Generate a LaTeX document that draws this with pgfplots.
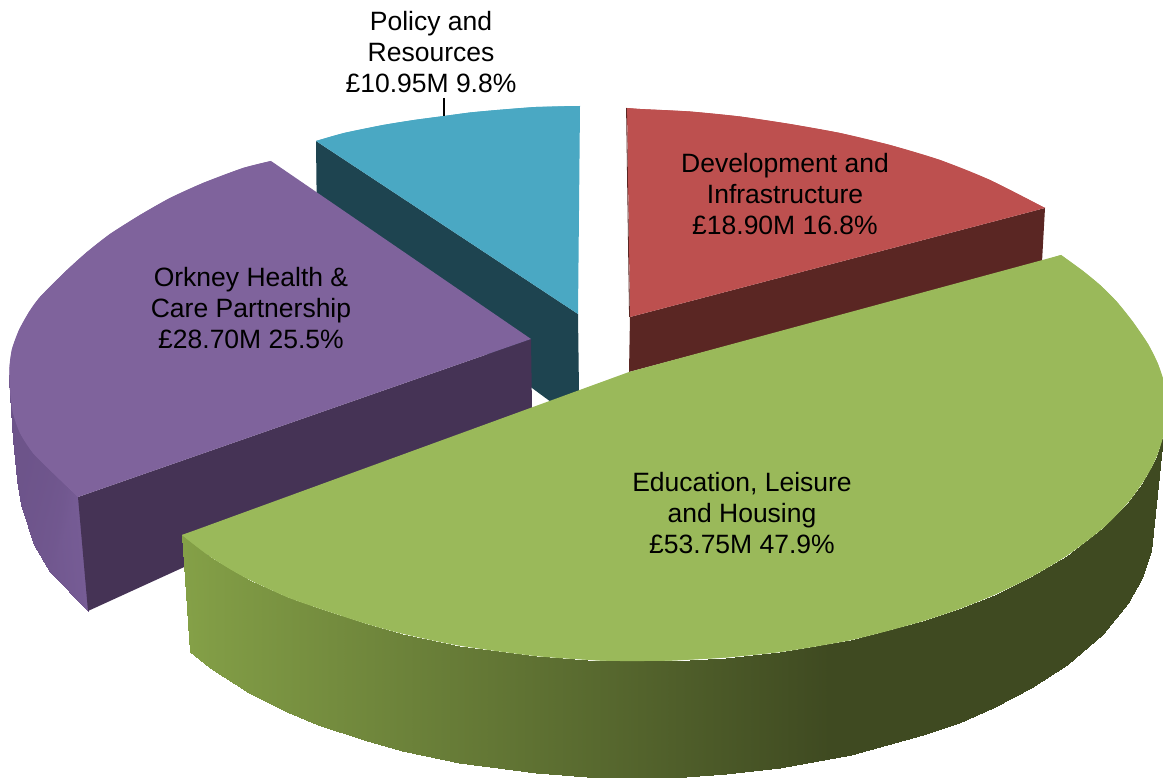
\documentclass[border=0pt]{standalone}
\usepackage{fontspec}
\setmainfont{Liberation Sans}
\usepackage{pgfplots}
\pgfplotsset{compat=1.18}
\definecolor{redtop}{HTML}{BD504F}
\definecolor{redside}{HTML}{5A2623}
\definecolor{greentop}{HTML}{9AB95A}
\definecolor{purpletop}{HTML}{7F639C}
\definecolor{purpleside}{HTML}{453355}
\definecolor{tealtop}{HTML}{4AA8C3}
\definecolor{tealside}{HTML}{1E4450}
\pgfplotsset{
  colormap={greenside}{rgb255(0cm)=(132,160,71); rgb255(6.48cm)=(63,74,33); rgb255(9.81cm)=(63,74,33)},
  colormap={purpleside}{rgb255(0cm)=(108,83,137); rgb255(1cm)=(118,92,149)},
}
\tikzset{lab/.style={font=\fontsize{26.5}{31}\selectfont, align=center, inner sep=0pt, text=black}}
\begin{document}
\begin{tikzpicture}
\useasboundingbox (0,0) rectangle (1163pt,778pt);
\begin{axis}[
  width=1163pt, height=778pt, scale only axis,
  xmin=0, xmax=1163, ymin=0, ymax=778,
  y dir=reverse,
  hide axis,
  clip=true,
]
% teal slice
\addplot[draw=none, fill=tealside] coordinates {
  (316,141) (578,314) (579,392) (551,402) (532,388) (317,229)
} -- cycle;
\addplot[draw=none, fill=tealtop] coordinates {
  (316,141) (344,133) (383,125) (414,120) (444,116) (470,112.5) (497,110) (536,107) (580,106) (578,314)
} -- cycle;
\addplot[draw=none, fill=tealtop, smooth] coordinates {
  (316,141) (344,133) (383,125) (414,120) (444,116) (470,112.5) (497,110) (536,107) (580,106)
} -- cycle;
% purple slice
\addplot[patch, patch type=rectangle, shader=interp, colormap name=purpleside, point meta rel=per plot, point meta=explicit]
  table[meta=c] {
  x y c
  9.5 375 10
  9.5 380 10
  13 440 13
  13 413 13
  13 413 13
  13 440 13
  17 480 17
  20 433 17
  20 433 17
  17 480 17
  21 505 21
  33 453 21
  33 453 21
  21 505 21
  34 545 34
  53 473 34
  53 473 34
  34 545 34
  50 572 50
  65 485 50
  65 485 50
  50 572 50
  88 611 88
  78 497 88
};
\addplot[draw=none, fill=purpleside] coordinates {
  (78,497) (531,339) (532,408) (88,611)
} -- cycle;
\addplot[draw=none, fill=purpletop] coordinates {
  (271,161) (243,168) (203,183) (170,198) (140,215) (110,234) (87,252) (67,270) (40,297) (29,312) (19,330) (12,349) (9.5,367) (10,390)
  (13,413) (20,433) (33,453) (53,473) (78,497) (531,339)
} -- cycle;
\addplot[draw=none, fill=purpletop, smooth] coordinates {
  (271,161) (243,168) (203,183) (170,198) (140,215) (110,234) (87,252) (67,270) (40,297) (29,312) (19,330) (12,349) (9.5,367) (10,390)
  (13,413) (20,433) (33,453) (53,473) (78,497)
} -- cycle;
% red slice
\addplot[draw=none, fill=redside] coordinates {
  (630,317) (1045,208) (1042,262) (629,372)
} -- cycle;
\addplot[draw=none, fill=redtop] coordinates {
  (627,108) (640,109) (690,111.5) (740,116.5) (790,124) (840,133) (890,145) (940,160) (990,180) (1045,208) (630,317)
} -- cycle;
\addplot[draw=none, fill=redtop, smooth] coordinates {
  (627,108) (640,109) (690,111.5) (740,116.5) (790,124) (840,133) (890,145) (940,160) (990,180) (1045,208)
} -- cycle;
\addplot[redside, line width=0.8pt] coordinates {(626.5,108) (629.5,317)};
% green slice
\addplot[patch, patch type=rectangle, shader=interp, colormap name=greenside, point meta rel=per plot, point meta=explicit]
  table[meta=c] {
  x y c
  182 535 182
  190 652 182
  210 668 210
  210 556.5 210
  210 556.5 210
  210 668 210
  249 692.5 249
  249 579.5 249
  249 579.5 249
  249 692.5 249
  287 711.5 287
  287 597 287
  287 597 287
  287 711.5 287
  318 724.5 318
  318 608 318
  318 608 318
  318 724.5 318
  364 740 364
  364 623 364
  364 623 364
  364 740 364
  402 750.5 402
  402 633.5 402
  402 633.5 402
  402 750.5 402
  459 762.5 459
  459 645.5 459
  459 645.5 459
  459 762.5 459
  536 773 536
  536 656 536
  536 656 536
  536 773 536
  600 777.5 600
  600 660.5 600
  600 660.5 600
  600 777.5 600
  640 778 640
  640 661 640
  640 661 640
  640 778 640
  672 777.5 672
  672 660.5 672
  672 660.5 672
  672 777.5 672
  726 774 726
  726 657.5 726
  726 657.5 726
  726 774 726
  780 768 780
  780 652 780
  780 652 780
  780 768 780
  851 755 851
  851 640 851
  851 640 851
  851 755 851
  923 735 923
  923 621 923
  923 621 923
  923 735 923
  959 722.5 959
  959 609 959
  959 609 959
  959 722.5 959
  995 707 995
  995 594.5 995
  995 594.5 995
  995 707 995
  1031 688 1031
  1031 577 1031
  1031 577 1031
  1031 688 1031
  1067 664.5 1067
  1067 555.5 1067
  1067 555.5 1067
  1067 664.5 1067
  1103 633.5 1103
  1103 528 1103
  1103 528 1103
  1103 633.5 1103
  1128 603 1128
  1128 502.5 1128
  1128 502.5 1128
  1128 603 1128
  1142 577.5 1142
  1142 483.5 1142
  1142 483.5 1142
  1142 577.5 1142
  1151 550.5 1151
  1151 468.5 1151
  1151 468.5 1151
  1151 550.5 1151
  1154 523 1157
  1157 455.5 1157
  1157 455.5 1157
  1154 523 1157
  1163 437 1163
  1163 437 1163
};
\addplot[draw=none, fill=greentop] coordinates {
  (1061,255) (1083,271) (1100,285) (1117,302) (1133,322) (1148,344) (1158,364) (1165,386) (1167,410) (1163,437)
  (1157,455.5) (1151,468.5) (1142,483.5) (1128,502.5) (1103,528) (1067,555.5) (1031,577) (995,594.5)
  (959,609) (923,621) (887,631) (851,640) (815,646.5) (780,652) (726,657.5) (672,660.5) (640,661)
  (600,660.5) (536,656) (459,645.5) (402,633.5) (364,623) (318,608) (287,597) (249,579.5) (230,569)
  (210,556.5) (196,546) (182,535) (629,372)
} -- cycle;
\addplot[draw=none, fill=greentop, smooth] coordinates {
  (1061,255) (1083,271) (1100,285) (1117,302) (1133,322) (1148,344) (1158,364) (1165,386) (1167,410) (1163,437)
  (1157,455.5) (1151,468.5) (1142,483.5) (1128,502.5) (1103,528) (1067,555.5) (1031,577) (995,594.5)
  (959,609) (923,621) (887,631) (851,640) (815,646.5) (780,652) (726,657.5) (672,660.5) (640,661)
  (600,660.5) (536,656) (459,645.5) (402,633.5) (364,623) (318,608) (287,597) (249,579.5) (230,569)
  (210,556.5) (196,546) (182,535)
} -- cycle;
% leader line of the Policy label
\addplot[black, line width=1.3pt] coordinates {(444,98) (444,116)};
\node[lab] at (axis cs:431,52) {Policy and\\Resources\\£10.95M 9.8\%};
\node[lab] at (axis cs:785,194) {Development and\\Infrastructure\\£18.90M 16.8\%};
\node[lab] at (axis cs:251,308) {Orkney Health \&\\Care Partnership\\£28.70M 25.5\%};
\node[lab] at (axis cs:742,513) {Education, Leisure\\and Housing\\£53.75M 47.9\%};
\end{axis}
\end{tikzpicture}
\end{document}
